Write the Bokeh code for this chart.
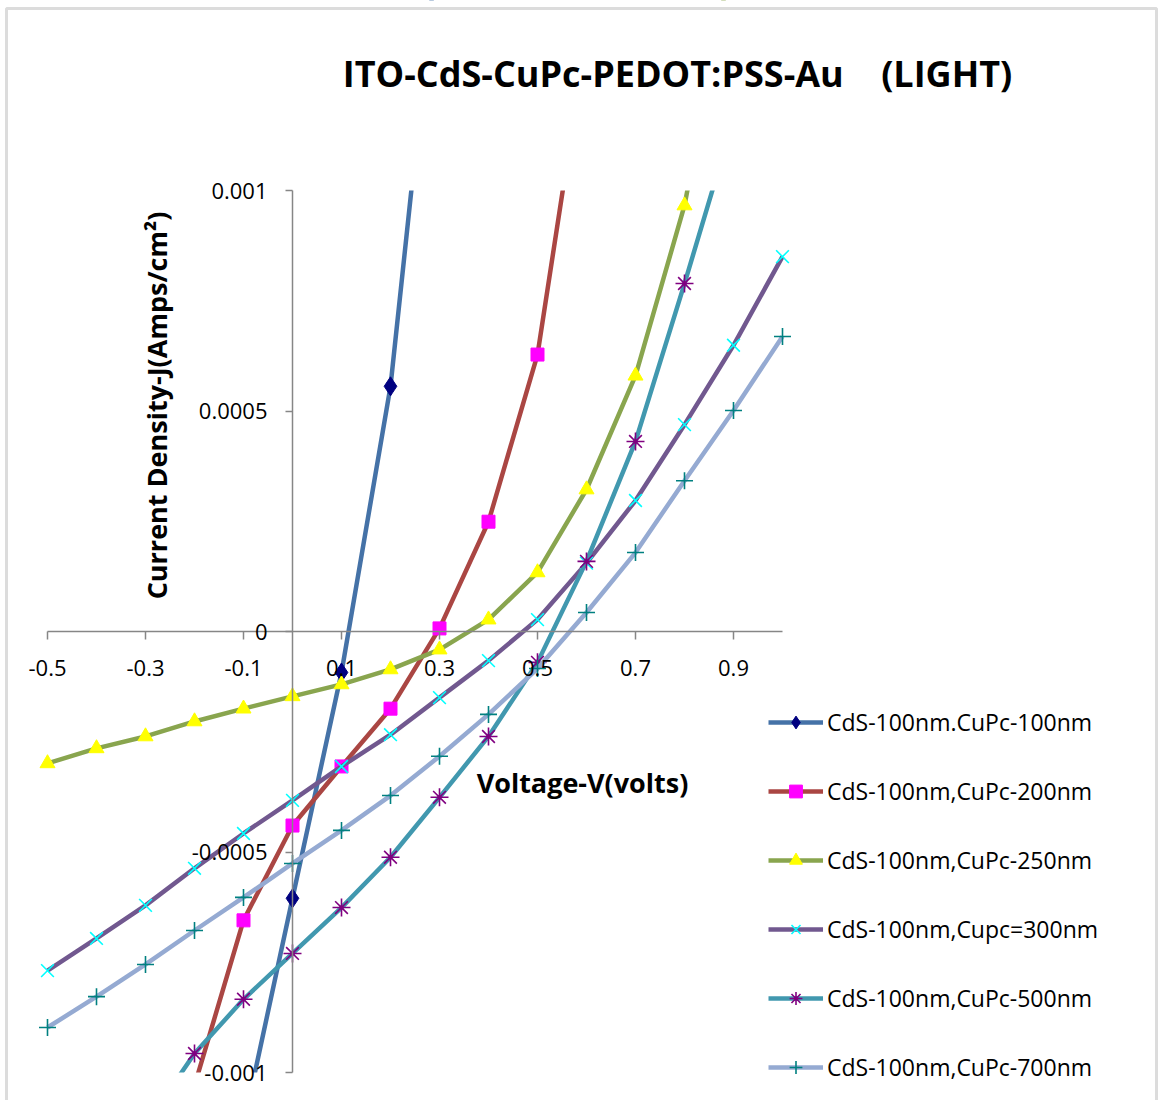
from bokeh.plotting import figure
from bokeh.models import (LinearAxis, FixedTicker, Label, Legend, LegendItem,
                          BoxAnnotation, Range1d)
from bokeh.embed import file_html
from bokeh.resources import INLINE

# ---------------- data ----------------
title_text = "ITO-CdS-CuPc-PEDOT:PSS-Au\u00a0\u00a0\u00a0\u00a0(LIGHT)"
x_title = "Voltage-V(volts)"
y_title = "Current Density-J(Amps/cm\u00b2)"

x_min, x_max = -0.5, 1.0
y_min, y_max = -0.001, 0.001
x_ticks = [-0.5, -0.3, -0.1, 0.1, 0.3, 0.5, 0.7, 0.9]
x_tick_labels = ["-0.5", "-0.3", "-0.1", "0.1", "0.3", "0.5", "0.7", "0.9"]
y_ticks = [-0.001, -0.0005, 0.0, 0.0005, 0.001]
y_tick_labels = ["-0.001", "-0.0005", "0", "0.0005", "0.001"]

names = ["CdS-100nm.CuPc-100nm", "CdS-100nm,CuPc-200nm", "CdS-100nm,CuPc-250nm",
         "CdS-100nm,Cupc=300nm", "CdS-100nm,CuPc-500nm", "CdS-100nm,CuPc-700nm"]

v_100 = [-0.1, 0.0, 0.1, 0.2, 0.3]
j_100 = [-1.12e-3, -0.605e-3, -0.093e-3, 0.556e-3, 1.6e-3]

v_200 = [-0.2, -0.1, 0.0, 0.1, 0.2, 0.3, 0.4, 0.5, 0.6]
j_200 = [-1.03e-3, -0.655e-3, -0.44e-3, -0.306e-3, -0.175e-3, 0.007e-3,
         0.249e-3, 0.628e-3, 1.35e-3]

v_250 = [-0.5, -0.4, -0.3, -0.2, -0.1, 0.0, 0.1, 0.2, 0.3, 0.4, 0.5, 0.6, 0.7, 0.8, 0.9]
j_250 = [-0.299e-3, -0.265e-3, -0.238e-3, -0.204e-3, -0.175e-3, -0.147e-3,
         -0.120e-3, -0.086e-3, -0.041e-3, 0.027e-3, 0.134e-3, 0.322e-3,
         0.580e-3, 0.966e-3, 1.55e-3]

v_300 = [-0.5, -0.4, -0.3, -0.2, -0.1, 0.0, 0.1, 0.2, 0.3, 0.4, 0.5, 0.6, 0.7, 0.8, 0.9, 1.0]
j_300 = [-0.769e-3, -0.696e-3, -0.621e-3, -0.537e-3, -0.458e-3, -0.383e-3,
         -0.306e-3, -0.234e-3, -0.150e-3, -0.066e-3, 0.027e-3, 0.155e-3,
         0.297e-3, 0.469e-3, 0.649e-3, 0.850e-3]

v_500 = [-0.3, -0.2, -0.1, 0.0, 0.1, 0.2, 0.3, 0.4, 0.5, 0.6, 0.7, 0.8, 0.9]
j_500 = [-1.12e-3, -0.957e-3, -0.834e-3, -0.730e-3, -0.626e-3, -0.512e-3,
         -0.376e-3, -0.238e-3, -0.070e-3, 0.159e-3, 0.431e-3, 0.789e-3, 1.16e-3]

v_700 = [-0.5, -0.4, -0.3, -0.2, -0.1, 0.0, 0.1, 0.2, 0.3, 0.4, 0.5, 0.6, 0.7, 0.8, 0.9, 1.0]
j_700 = [-0.898e-3, -0.828e-3, -0.755e-3, -0.678e-3, -0.603e-3, -0.526e-3,
         -0.451e-3, -0.372e-3, -0.283e-3, -0.188e-3, -0.084e-3, 0.043e-3,
         0.179e-3, 0.342e-3, 0.501e-3, 0.669e-3]

# ---------------- layout (pixels) ----------------
W, H = 1158, 1100
BOX_L, BOX_R, BOX_T, BOX_B = 47, 782, 190, 1072
sx = (x_max - x_min) / (BOX_R - BOX_L)   # data per px
sy = (y_max - y_min) / (BOX_B - BOX_T)

def dx(px):
    return x_min + (px - BOX_L) * sx

def dy(py):
    return y_max - (py - BOX_T) * sy

FONT = "Open Sans"
AXIS_GRAY = "#868686"

series = [
    (v_100, j_100, "#4572A7", "diamond", "#000080", 19),
    (v_200, j_200, "#AA4643", "square", "#FF00FF", 13),
    (v_250, j_250, "#89A54E", "triangle", "#FFFF00", 15),
    (v_300, j_300, "#71588F", "x", "#00FFFF", 18),
    (v_500, j_500, "#4198AF", "asterisk", "#800080", 18),
    (v_700, j_700, "#95AAD2", "cross", "#008080", 17),
]

p = figure(width=W, height=H, output_backend="svg", toolbar_location=None,
           title=None,
           x_range=Range1d(dx(0), dx(W)), y_range=Range1d(dy(H), dy(0)),
           x_axis_location=None, y_axis_location=None,
           min_border=0)
p.outline_line_color = None
p.xgrid.visible = False
p.ygrid.visible = False
p.background_fill_color = "white"
p.border_fill_color = "white"

xa = LinearAxis(fixed_location=0, bounds=(x_min, x_max))
xa.ticker = FixedTicker(ticks=x_ticks)
xa.major_label_overrides = {t: l for t, l in zip(x_ticks, x_tick_labels)}
ya = LinearAxis(fixed_location=0, bounds=(y_min, y_max))
ya.ticker = FixedTicker(ticks=y_ticks)
ya.major_label_overrides = {t: l for t, l in zip(y_ticks, y_tick_labels)}
for ax in (xa, ya):
    ax.axis_line_color = AXIS_GRAY
    ax.axis_line_width = 1.5
    ax.major_tick_line_color = AXIS_GRAY
    ax.major_tick_line_width = 1.5
    ax.major_tick_in = 0
    ax.minor_tick_line_color = None
    ax.major_label_text_font = FONT
    ax.major_label_text_font_size = "22px"
    ax.major_label_text_color = "black"
xa.major_tick_out = 8
xa.major_label_standoff = 20
ya.major_tick_out = 7
ya.major_label_standoff = 18
p.add_layout(xa, "below")
p.add_layout(ya, "left")

items = []
for (vx, jy, lc, mk, mc, ms), nm in zip(series, names):
    r1 = p.line(vx, jy, line_color=lc, line_width=4.5)
    r2 = p.scatter(vx, jy, marker=mk, size=ms, fill_color=mc, line_color=mc,
                   line_width=1.6 if mk in ("x", "asterisk", "cross") else 1)
    items.append(LegendItem(label=nm, renderers=[r1, r2]))

# white masks outside the plot area (act as clipping of the curves)
for kw in (dict(bottom=y_max), dict(top=y_min)):
    p.add_layout(BoxAnnotation(fill_color="white", fill_alpha=1, line_color=None,
                               level="glyph", **kw))

legend = Legend(items=items, location=(768, 17), orientation="vertical",
                glyph_width=55, glyph_height=32, label_height=32, spacing=37,
                label_standoff=4, padding=0, margin=0,
                label_text_font=FONT, label_text_font_size="23px",
                label_text_color="black",
                border_line_color=None, background_fill_alpha=0)
p.add_layout(legend, "center")

p.add_layout(Label(x=dx(677), y=dy(73), text=title_text, text_font=FONT,
                   text_font_style="bold", text_font_size="36px", text_color="black",
                   text_align="center", text_baseline="middle"))
p.add_layout(Label(x=dx(582), y=dy(782), text=x_title, text_font=FONT,
                   text_font_style="bold", text_font_size="27px", text_color="black",
                   text_align="center", text_baseline="middle"))
p.add_layout(Label(x=dx(156), y=dy(405), text=y_title, text_font=FONT,
                   text_font_style="bold", text_font_size="27px", angle=1.5708,
                   text_color="black", text_align="center", text_baseline="middle"))

p.add_layout(BoxAnnotation(left=dx(6), right=dx(1156), top=dy(8), bottom=dy(1140),
                           fill_alpha=0, line_color="#8c8c8c", line_width=3))

open("out.html", "w").write(file_html(p, INLINE))
